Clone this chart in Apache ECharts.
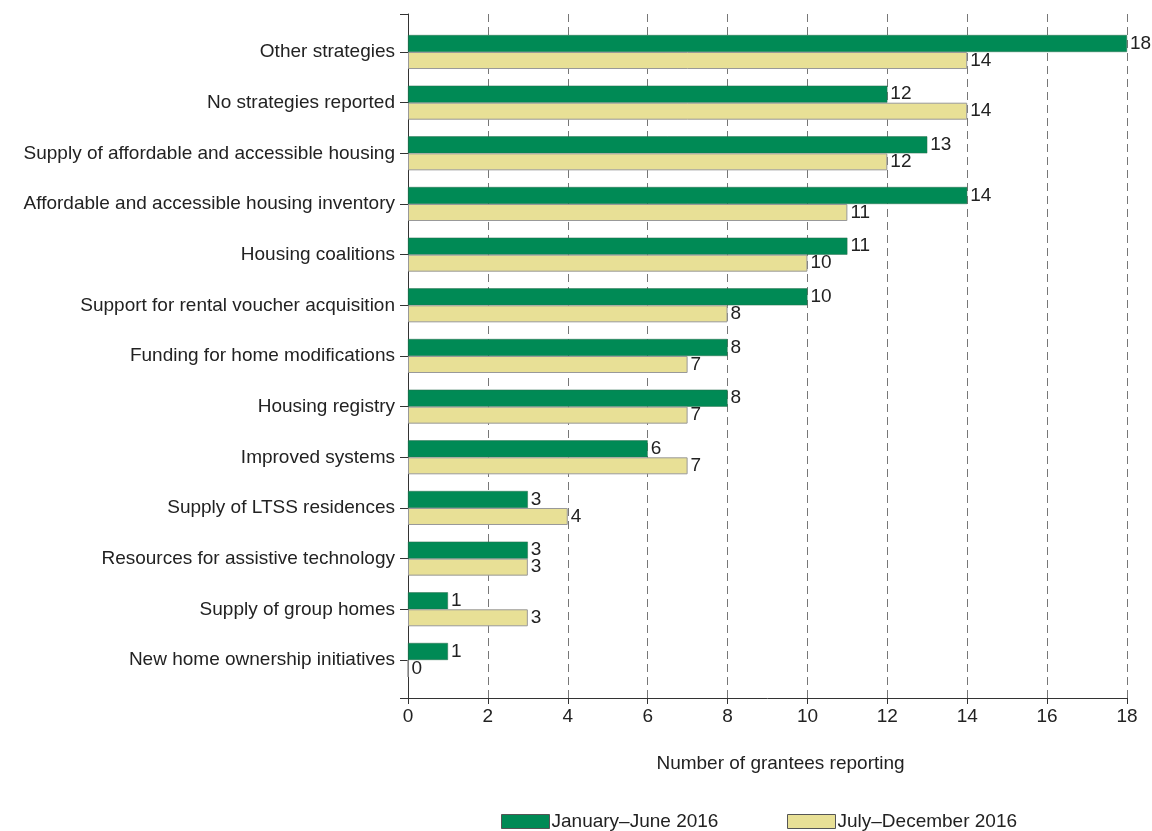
<!DOCTYPE html>
<html><head><meta charset="utf-8">
<script src="https://cdn.jsdelivr.net/npm/echarts@6/dist/echarts.min.js"></script>
<style>html,body{margin:0;padding:0;background:#fff}#c{width:1152px;height:831px}</style>
</head><body><div id="c"></div>
<script>
const categories = [
  "Other strategies",
  "No strategies reported",
  "Supply of affordable and accessible housing",
  "Affordable and accessible housing inventory",
  "Housing coalitions",
  "Support for rental voucher acquisition",
  "Funding for home modifications",
  "Housing registry",
  "Improved systems",
  "Supply of LTSS residences",
  "Resources for assistive technology",
  "Supply of group homes",
  "New home ownership initiatives"
];
const janJun = [18, 12, 13, 14, 11, 10, 8, 8, 6, 3, 3, 1, 1];
const julDec = [14, 14, 12, 11, 10, 8, 7, 7, 7, 4, 3, 3, 0];
const seriesNames = ["January\u2013June 2016", "July\u2013December 2016"];
const xTicks = {min: 0, max: 18, interval: 2};
const xTitle = "Number of grantees reporting";

const FONT = "Liberation Sans, Arial, sans-serif";
const FS = 19;
const chart = echarts.init(document.getElementById('c'), null, {renderer: 'canvas'});
const lbl = {show: true, position: 'right', distance: 3, color: '#222', fontSize: FS, fontFamily: FONT};
const legendBase = {
  top: 807, itemWidth: 48, itemHeight: 14, itemGap: 0, padding: 5,
  textStyle: {color: '#222', fontSize: FS, fontFamily: FONT, lineHeight: 14, padding: [0, 0, 0, -3]},
  itemStyle: {borderColor: '#555', borderWidth: 1}
};
chart.setOption({
  animation: false,
  textStyle: {fontFamily: FONT},
  grid: [
    {left: 408, right: 25, top: 14, bottom: 133},
    {left: 408, right: 25, top: 26.7, bottom: 145.7}
  ],
  xAxis: [
    {gridIndex: 0, type: 'value', min: xTicks.min, max: xTicks.max, interval: xTicks.interval,
     axisLine: {show: true, lineStyle: {color: '#333', width: 1}},
     axisTick: {show: true, length: 6, lineStyle: {color: '#333'}},
     axisLabel: {color: '#222', fontSize: FS, margin: 9, fontFamily: FONT},
     splitLine: {show: true, lineStyle: {color: '#777', type: [8, 5], width: 1}},
     name: xTitle, nameLocation: 'middle', nameGap: 56,
     nameTextStyle: {color: '#222', fontSize: FS, fontFamily: FONT, padding: [0, 0, 0, 26]}},
    {gridIndex: 1, type: 'value', min: xTicks.min, max: xTicks.max, show: false}
  ],
  yAxis: [
    {gridIndex: 0, type: 'value', min: 0, max: 1, interval: 1,
     axisLine: {show: true, lineStyle: {color: '#333'}},
     axisTick: {show: true, length: 8, lineStyle: {color: '#333'}},
     axisLabel: {show: false}, splitLine: {show: false}},
    {gridIndex: 1, type: 'category', data: categories, inverse: true,
     axisLine: {show: false},
     axisTick: {show: true, alignWithLabel: true, length: 8, lineStyle: {color: '#333'}},
     axisLabel: {color: '#222', fontSize: FS, margin: 13, fontFamily: FONT},
     splitLine: {show: false}}
  ],
  legend: [
    Object.assign({}, legendBase, {left: 496, data: [{name: seriesNames[0], icon: 'rect'}]}),
    Object.assign({}, legendBase, {left: 782, data: [{name: seriesNames[1], icon: 'rect'}]})
  ],
  series: [
    {name: seriesNames[0], type: 'bar', xAxisIndex: 1, yAxisIndex: 1, data: janJun,
     barWidth: 17, barGap: '0%',
     itemStyle: {color: '#008A55', borderColor: '#2a6e4e', borderWidth: 0.5},
     label: lbl},
    {name: seriesNames[1], type: 'bar', xAxisIndex: 1, yAxisIndex: 1, data: julDec,
     barWidth: 17, barGap: '0%',
     itemStyle: {color: '#E8E096', borderColor: '#999', borderWidth: 1},
     label: lbl}
  ]
});
</script></body></html>
